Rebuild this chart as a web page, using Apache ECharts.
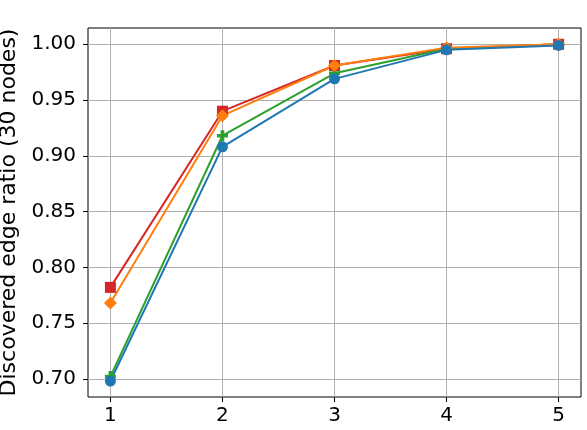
<!DOCTYPE html>
<html>
<head>
<meta charset="utf-8">
<script src="https://cdn.jsdelivr.net/npm/echarts@6/dist/echarts.min.js"></script>
<style>
  html, body { margin: 0; padding: 0; background: #fff; }
  #chart { width: 587px; height: 430px; }
</style>
</head>
<body>
<div id="chart"></div>
<script>
// data
const steps = [1, 2, 3, 4, 5];
const blueVals = [0.698, 0.908, 0.969, 0.995, 0.999];
const greenVals = [0.702, 0.918, 0.974, 0.996, 1.000];
const orangeVals = [0.768, 0.936, 0.981, 0.997, 1.000];
const redVals = [0.782, 0.940, 0.981, 0.996, 1.000];
const yTicks = [0.70, 0.75, 0.80, 0.85, 0.90, 0.95, 1.00];

const plusPath = 'path://M1,0H2V1H3V2H2V3H1V2H0V1H1Z';

function pairs(vals) {
  return steps.map((s, i) => [s, vals[i]]);
}

function line(name, vals, color, symbol, size) {
  return {
    name: name,
    type: 'line',
    data: pairs(vals),
    symbol: symbol,
    symbolSize: size,
    showAllSymbol: true,
    lineStyle: { color: color, width: 2 },
    itemStyle: { color: color, opacity: 1 },
    emphasis: { disabled: true },
    animation: false
  };
}

const chart = echarts.init(document.getElementById('chart'));
chart.setOption({
  backgroundColor: '#fff',
  textStyle: { fontFamily: 'DejaVu Sans' },
  grid: {
    left: 88, right: 6, top: 28, bottom: 33,
    show: true, borderColor: '#000', borderWidth: 1,
    containLabel: false,
    outerBoundsMode: 'none'
  },
  xAxis: {
    type: 'value',
    min: 0.8,
    max: 5.2,
    axisLine: { show: false },
    axisTick: { show: true, customValues: steps, length: 5, lineStyle: { color: '#000' } },
    axisLabel: { customValues: steps, color: '#000', fontSize: 20, margin: 9 },
    splitLine: { show: true, lineStyle: { color: '#b0b0b0', width: 1 } }
  },
  yAxis: {
    type: 'value',
    min: 0.6837,
    max: 1.0146,
    name: 'Discovered edge ratio (30 nodes)',
    nameLocation: 'middle',
    nameGap: 65,
    nameTextStyle: { color: '#000', fontSize: 22 },
    axisLine: { show: false },
    axisTick: { show: true, customValues: yTicks, length: 5, lineStyle: { color: '#000' } },
    axisLabel: {
      customValues: yTicks, color: '#000', fontSize: 20, margin: 12,
      formatter: v => v.toFixed(2)
    },
    splitLine: { show: true, lineStyle: { color: '#b0b0b0', width: 1 } }
  },
  series: [
    line('red', redVals, '#d62728', 'rect', 11),
    line('green', greenVals, '#2ca02c', plusPath, 11),
    line('orange', orangeVals, '#ff7f0e', 'diamond', 13),
    line('blue', blueVals, '#1f77b4', 'circle', 11)
  ]
});
</script>
</body>
</html>
